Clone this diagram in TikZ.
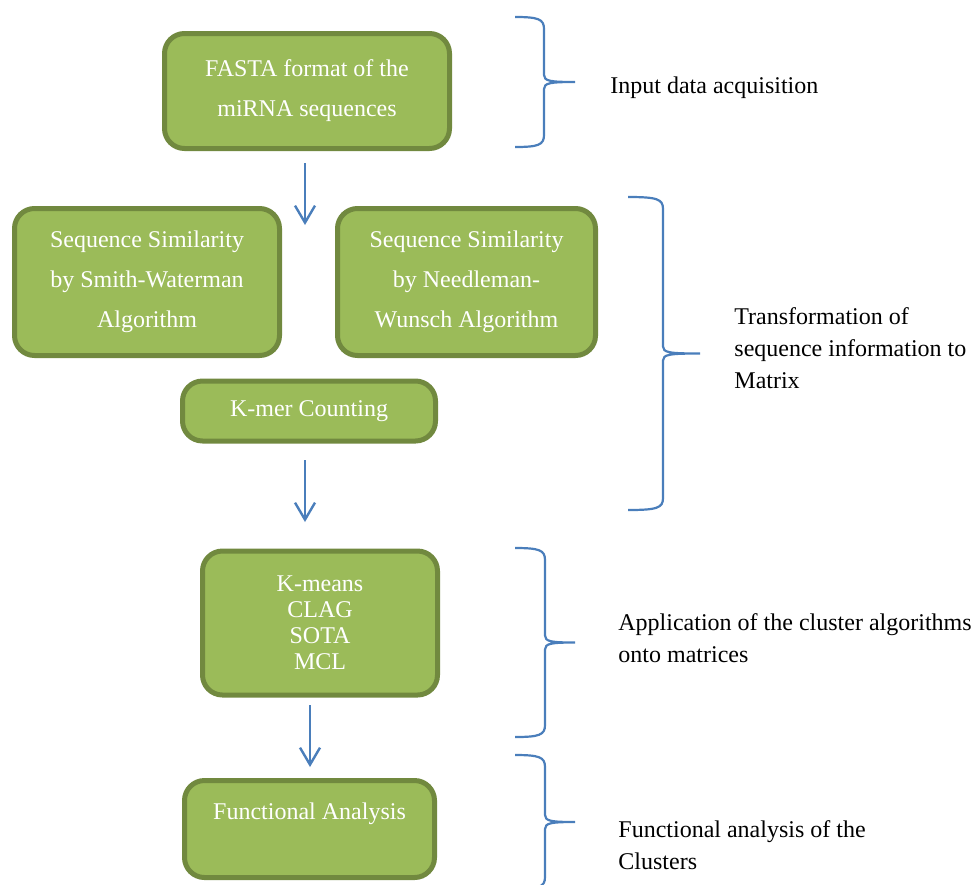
\documentclass[tikz,border=0pt]{standalone}
\usepackage{fontspec}
\setmainfont{Liberation Serif}
\usepackage{tikz}
\usetikzlibrary{arrows.meta}
\definecolor{boxfill}{HTML}{9BBB59}
\definecolor{boxline}{HTML}{71893F}
\definecolor{arrowblue}{HTML}{4A7EBB}
\tikzstyle{process} = [rectangle, rounded corners=10pt, text centered, align=center, draw=boxline, line width=2.5pt, fill=boxfill, text=white, font=\fontsize{12}{20}\selectfont]
\tikzstyle{sidenote} = [anchor=west, align=left, inner sep=0pt, font=\fontsize{12}{16}\selectfont]
\tikzstyle{arrow} = [draw=arrowblue, line width=1.2pt, -{Straight Barb[length=8.5pt, width=10pt]}]
\tikzstyle{bracket} = [draw=arrowblue, line width=1.1pt]
% #1 left end, #2 spine, #3 tip, #4 top, #5 bottom
\newcommand{\sidebrace}[5]{%
  \draw [bracket] (#1,#4) .. controls ({#2-6},#4) and (#2,{#4+2}) .. (#2,{#4+12})
    -- (#2,{(#4+#5)/2-7}) .. controls (#2,{(#4+#5)/2-1}) and ({#2+6},{(#4+#5)/2}) .. (#3,{(#4+#5)/2})
    .. controls ({#2+6},{(#4+#5)/2}) and (#2,{(#4+#5)/2+1}) .. (#2,{(#4+#5)/2+7})
    -- (#2,{#5-12}) .. controls (#2,{#5-2}) and ({#2-6},#5) .. (#1,#5);}

\begin{document}
\begin{tikzpicture}[x=0.5pt, y=-0.5pt]
        \useasboundingbox (0,0) rectangle (972,884);
        % Nodes
        \node (fasta) [process, minimum width=142.5pt, minimum height=57.5pt] at (307,91) {FASTA format of the\\miRNA sequences};
        \node (smith) [process, minimum width=132.5pt, minimum height=73.5pt] at (147,282) {Sequence Similarity\\by Smith-Waterman\\Algorithm};
        \node (needle) [process, minimum width=129pt, minimum height=73.5pt] at (466.5,282) {Sequence Similarity\\by Needleman-\\Wunsch Algorithm};
        \node (kmer) [process, minimum width=126.5pt, minimum height=30pt] at (309,411) {K-mer Counting};
        \node (kmeans) [process, minimum width=117.5pt, minimum height=72pt, font=\fontsize{12}{13}\selectfont] at (320,623) {K-means\\CLAG\\SOTA\\MCL};
        \node (func) [process, minimum width=125pt, minimum height=48.5pt] at (309.5,829) {Functional Analysis\\[-8pt]\strut};

        \node (input) [sidenote] at (610,88) {Input data acquisition};
        \node (transform) [sidenote] at (734,348) {Transformation of\\sequence information to\\Matrix};
        \node (apply) [sidenote] at (618,638.5) {Application of the cluster algorithms\\onto matrices};
        \node (analysis) [sidenote] at (618,845.5) {Functional analysis of the\\Clusters};

        % Arrows
        \coordinate (a1s) at (305,163);
        \coordinate (a1e) at (305,225);
        \coordinate (a2s) at (305,460);
        \coordinate (a2e) at (305,522);
        \coordinate (a3s) at (310,705);
        \coordinate (a3e) at (310,767);
        \draw [arrow] (a1s) -- (a1e);
        \draw [arrow] (a2s) -- (a2e);
        \draw [arrow] (a3s) -- (a3e);

        % Braces
        \sidebrace{515}{544}{575}{17}{147}
        \sidebrace{628}{663}{700}{197}{510}
        \sidebrace{515}{545}{575}{548}{737}
        \sidebrace{515}{545}{575}{755}{889}
    \end{tikzpicture}
\end{document}
